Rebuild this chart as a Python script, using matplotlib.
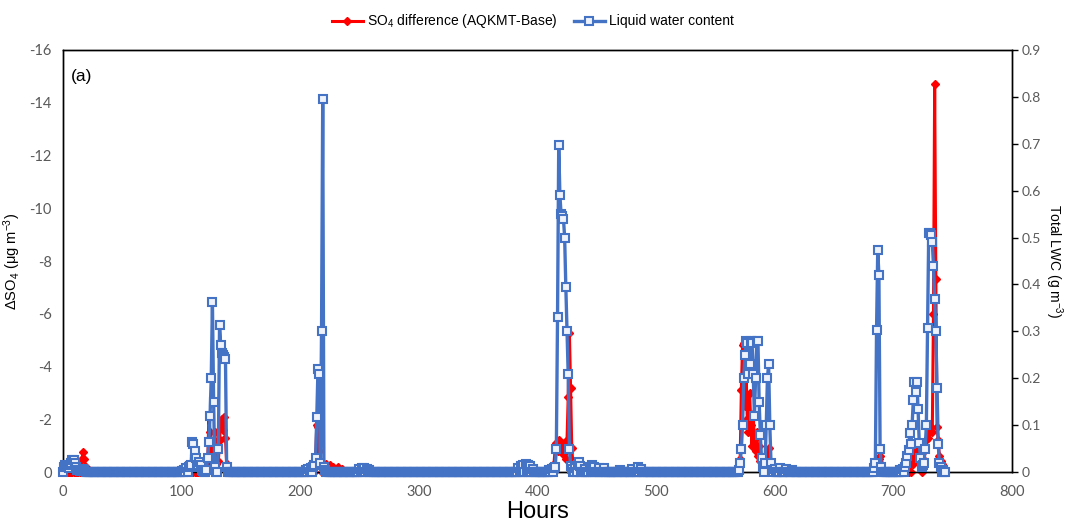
import numpy as np
import matplotlib
matplotlib.use("Agg")
import matplotlib.pyplot as plt
from matplotlib.lines import Line2D

plt.rcParams['axes.unicode_minus'] = False
plt.rcParams['mathtext.fontset'] = 'custom'
plt.rcParams['mathtext.rm'] = 'Liberation Sans'
plt.rcParams['mathtext.it'] = 'Liberation Sans:italic'

# ---- data ----
n_hours = 745  # hourly values 0..744, baseline 0 where no event

lwc_hours = [1, 2, 3, 4, 5, 6, 7, 8, 9, 10, 11, 12, 13, 14, 15, 16, 17, 18,
             100, 102, 104, 106, 107, 108, 109, 110, 111, 112, 113, 114, 115, 116, 117, 118,
             121, 122, 123, 124, 125, 126, 127, 128, 131, 132, 133, 134, 135, 136, 137, 138,
             205, 207, 209, 211, 212, 213, 214, 215, 216, 217, 218, 219, 220, 221,
             250, 252, 254, 256, 258,
             384, 386, 388, 390, 392, 394, 396, 410, 412, 414, 415, 416, 417, 418, 419, 420,
             421, 422, 423, 424, 425, 426, 427, 428, 429, 432, 434, 435, 436, 440, 444, 446,
             448, 452, 456, 470, 480, 485, 487,
             570, 571, 572, 573, 574, 575, 576, 577, 578, 579, 580, 581, 582, 583, 584, 585,
             586, 587, 588, 589, 590, 592, 593, 594, 595, 596, 597, 598, 600, 605, 610, 615,
             684, 685, 686, 687, 688, 689, 690,
             706, 708, 710, 711, 712, 713, 714, 715, 716, 717, 718, 719, 720, 721, 722, 723,
             724, 725, 726, 727, 728, 729, 730, 731, 732, 733, 734, 735, 736, 737, 738, 739,
             740, 742]
lwc_values = [0.010, 0.015, 0.012, 0.010, 0.008, 0.015, 0.020, 0.026, 0.026, 0.020, 0.010, 0.005,
              0.004, 0.003, 0.003, 0.005, 0.006, 0.004,
              0.003, 0.005, 0.008, 0.010, 0.012, 0.015, 0.065, 0.060, 0.045, 0.030, 0.010, 0.015,
              0.022, 0.015, 0.005, 0.003,
              0.005, 0.030, 0.065, 0.120, 0.200, 0.363, 0.150, 0.010, 0.050, 0.313, 0.270, 0.253,
              0.250, 0.246, 0.240, 0.010,
              0.004, 0.006, 0.008, 0.010, 0.015, 0.030, 0.118, 0.219, 0.210, 0.020, 0.300, 0.795,
              0.010, 0.004,
              0.006, 0.008, 0.008, 0.006, 0.004,
              0.008, 0.012, 0.016, 0.018, 0.015, 0.012, 0.006, 0.004, 0.006, 0.008, 0.010, 0.050,
              0.330, 0.697, 0.590, 0.550, 0.546, 0.540, 0.500, 0.394, 0.300, 0.208, 0.050, 0.012,
              0.006, 0.008, 0.015, 0.022, 0.012, 0.006, 0.010, 0.015, 0.010, 0.008, 0.008, 0.005,
              0.006, 0.011, 0.006,
              0.005, 0.020, 0.050, 0.100, 0.200, 0.250, 0.280, 0.276, 0.210, 0.230, 0.280, 0.276,
              0.210, 0.120, 0.200, 0.280, 0.280, 0.150, 0.080, 0.030, 0.010, 0.020, 0.100, 0.200,
              0.230, 0.100, 0.020, 0.005, 0.006, 0.008, 0.006, 0.004,
              0.008, 0.020, 0.303, 0.473, 0.420, 0.050, 0.010,
              0.004, 0.006, 0.010, 0.020, 0.035, 0.047, 0.083, 0.060, 0.100, 0.154, 0.193, 0.171,
              0.193, 0.135, 0.062, 0.030, 0.010, 0.015, 0.020, 0.050, 0.100, 0.307, 0.510, 0.510,
              0.505, 0.490, 0.440, 0.370, 0.300, 0.180, 0.060, 0.020, 0.010, 0.004]

so4_hours = [15, 16, 17, 18, 19,
             122, 123, 124, 125, 126, 127, 128, 129, 131, 132, 133, 134, 135, 136, 137, 138,
             213, 214, 215, 216, 217, 219, 222, 225, 228, 232, 235,
             414, 415, 416, 417, 418, 419, 420, 421, 422, 423, 424, 425, 426, 427, 428, 429, 430,
             431,
             571, 572, 573, 574, 575, 576, 577, 578, 579, 580, 581, 582, 583, 584, 585, 586, 587,
             588, 589, 590, 594, 595, 596, 597,
             687, 688, 689, 690,
             712, 714, 716, 717, 718, 719, 720, 721, 722, 723, 725, 726, 727, 728, 729, 730, 731,
             732, 733, 734, 735, 736, 737, 738, 739, 740, 741, 742, 743]
so4_values = [-0.2, -0.5, -0.75, -0.5, -0.2,
              -0.3, -2.1, -1.5, -0.8, -0.4, -1.2, -1.5, -0.3, -0.4, -1.2, -1.8, -2.0, -1.6,
              -2.1, -1.3, -0.3,
              -0.5, -1.8, -1.7, -0.8, -0.3, -0.2, -0.3, -0.25, -0.2, -0.2, -0.1,
              -0.3, -0.9, -1.1, -0.8, -1.2, -1.0, -1.1, -0.9, -0.7, -1.0, -0.5, -1.2, -2.86,
              -5.27, -3.2, -0.9, -0.3, -0.1,
              -0.5, -3.1, -4.8, -4.9, -2.5, -3.8, -2.0, -1.5, -3.0, -1.8, -1.0, -2.2, -1.2, -0.8,
              -1.5, -0.6, -1.0, -0.4, -0.2, -0.1, -0.6, -0.9, -0.4, -0.2,
              -0.3, -0.5, -0.6, -0.3,
              -0.2, -0.5, -0.8, -0.3, -1.0, -0.5, -0.8, -0.4, -0.6, -0.3, -0.5, -0.8, -1.0, -1.2,
              -1.3, -1.5, -1.6, -1.7, -1.5, -6.0, -14.7, -7.3, -1.7, -1.2, -0.6, -0.4, -0.3,
              -0.2, -0.1]

x_ticks = [0, 100, 200, 300, 400, 500, 600, 700, 800]
left_ticks = [0, -2, -4, -6, -8, -10, -12, -14, -16]
right_ticks = [0, 0.1, 0.2, 0.3, 0.4, 0.5, 0.6, 0.7, 0.8, 0.9]

hours = np.arange(n_hours)
lwc = np.zeros(n_hours)
lwc[lwc_hours] = lwc_values
so4 = np.zeros(n_hours)
so4[so4_hours] = so4_values

# ---- figure ----
RED = '#FF0000'
BLUE = '#4472C4'
TICK_COLOR = '#595959'
FAM = ['Liberation Sans', 'DejaVu Sans']

fig = plt.figure(figsize=(10.66, 5.24), dpi=100)
ax = fig.add_axes([0.0591, 0.0992, 0.8900, 0.8054])
ax2 = ax.twinx()

ax.plot(hours, so4, color=RED, lw=2.2, marker='D', ms=3.6, mfc=RED, mec=RED,
        clip_on=False, zorder=3)
ax2.plot(hours, lwc, color=BLUE, lw=2.4, marker='s', ms=5.8, mfc='#EEF2FA', mec=BLUE,
         mew=1.5, clip_on=False, zorder=3)

ax.set_xlim(0, 800)
ax.set_ylim(0, -16)
ax2.set_ylim(0, 0.9)

ax.set_xticks(x_ticks)
ax.set_xticklabels([str(t) for t in x_ticks])
ax.set_yticks(left_ticks)
ax.set_yticklabels([str(t) for t in left_ticks])
ax2.set_yticks(right_ticks)
ax2.set_yticklabels(['0'] + ['%.1f' % t for t in right_ticks[1:]])

for lab in ax.get_xticklabels() + ax.get_yticklabels():
    lab.set_fontfamily(['Lato', 'DejaVu Sans'])
    lab.set_fontsize(10.5)
    lab.set_color(TICK_COLOR)
for lab in ax2.get_yticklabels():
    lab.set_fontfamily(['Lato', 'DejaVu Sans'])
    lab.set_fontsize(10)
    lab.set_color(TICK_COLOR)

ax.tick_params(axis='x', length=0, pad=9)
ax.tick_params(axis='y', length=0, pad=8)
ax2.tick_params(axis='y', length=4, width=1, direction='out', pad=3, color='black')

for a in (ax, ax2):
    for s in a.spines.values():
        s.set_color('black')
        s.set_linewidth(1.0)

ax.set_xlabel('Hours', fontsize=17, family=FAM, labelpad=2)
ax.set_ylabel('ΔSO$_4$ (μg m$^{-3}$)', fontsize=10.5, family=FAM, labelpad=5)
fig.text(1054 / 1066, 0.502, 'Total LWC (g m$^{-3}$)', fontsize=10, rotation=270,
         ha='center', va='center', rotation_mode='anchor', family=FAM)

ax.text(0.008, 0.955, '(a)', transform=ax.transAxes, fontsize=12.5, va='top', ha='left',
        family=FAM)

handles = [Line2D([], [], color=RED, lw=2.2, marker='D', ms=3.6, mfc=RED, mec=RED),
           Line2D([], [], color=BLUE, lw=2.4, marker='s', ms=5.8, mfc='#EEF2FA', mec=BLUE,
                  mew=1.5)]
labels = ['SO$_4$ difference (AQKMT-Base)', 'Liquid water content']
fig.legend(handles, labels, loc='upper center', bbox_to_anchor=(0.5, 1.0), ncol=2,
           frameon=False, prop={'family': FAM, 'size': 10},
           handlelength=2.2, handletextpad=0.3, columnspacing=1.2)

fig.savefig('out.png', dpi=100)
